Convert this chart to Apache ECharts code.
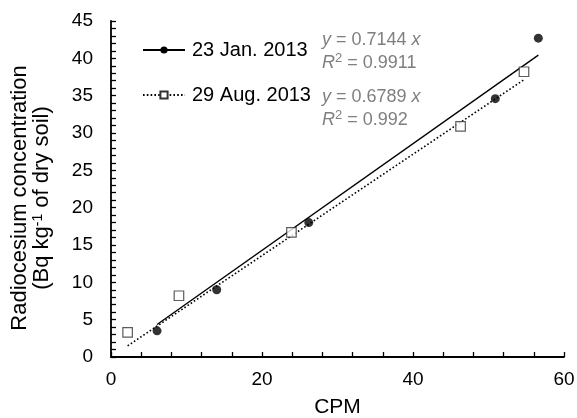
<!DOCTYPE html>
<html>
<head>
<meta charset="utf-8">
<script src="https://cdn.jsdelivr.net/npm/echarts@6/dist/echarts.min.js"></script>
<style>
    html, body { margin: 0; padding: 0; background: #fff; }
    #main { width: 577px; height: 418px; }
</style>
</head>
<body>
<div id="main"></div>
<script>
// 23 Jan. 2013 (filled circles)
let janX = [6.1, 14.0, 26.2, 50.9, 56.6];
let janY = [3.5, 9.0, 18.0, 34.6, 42.7];
// 29 Aug. 2013 (open squares)
let augX = [2.2, 9.0, 23.9, 46.3, 54.7];
let augY = [3.3, 8.2, 16.7, 30.9, 38.2];

let janSlope = 0.7144;
let augSlope = 0.6789;
let janR2 = '0.9911';
let augR2 = '0.992';

let seriesNames = ['23 Jan. 2013', '29 Aug. 2013'];

let font = 'Liberation Sans, Arial, sans-serif';

function pairs(xs, ys) {
    return xs.map(function (x, i) { return [x, ys[i]]; });
}

// trendline through origin, drawn over the data range
function trend(xs, slope) {
    let lo = Math.min.apply(null, xs);
    let hi = Math.max.apply(null, xs);
    return [
        { value: [lo, slope * lo], symbol: 'none' },
        { value: [hi, slope * hi], symbol: 'none' },
    ];
}

function eqText(slope, r2) {
    return '{i|y} = ' + slope.toFixed(4) + ' {i|x}\n{i|R}{s|2} = ' + r2;
}

let eqStyle = {
    fill: '#7f7f7f', fontSize: 18, fontFamily: font, lineHeight: 22.5,
    rich: {
        i: { fontStyle: 'italic', fill: '#7f7f7f', fontSize: 18, fontFamily: font, lineHeight: 22.5 },
        s: { fill: '#7f7f7f', fontSize: 13, verticalAlign: 'top', fontFamily: font, lineHeight: 22.5 },
    },
};

let chart = echarts.init(document.getElementById('main'));

let axisCommon = {
    axisLine: { show: true, lineStyle: { color: '#000', width: 1.8 } },
    axisTick: { show: true, inside: true, length: 5, lineStyle: { color: '#000', width: 1.3 } },
    minorTick: { show: true, splitNumber: 5, length: 5, lineStyle: { color: '#000', width: 1.3 } },
    splitLine: { show: false },
    axisLabel: { color: '#000', fontSize: 19, fontFamily: font },
};

let option = {
    animation: false,
    backgroundColor: '#fff',
    textStyle: { fontFamily: font },
    grid: { left: 111, right: 13, top: 21, bottom: 61, containLabel: false, outerBoundsMode: 'none' },
    legend: {
        orient: 'vertical',
        left: 137,
        top: 35,
        itemWidth: 42,
        itemHeight: 9,
        itemGap: 25,
        selectedMode: false,
        textStyle: { color: '#000', fontSize: 20, fontFamily: font, padding: [0, 0, 0, 2] },
        data: seriesNames,
    },
    xAxis: Object.assign({}, axisCommon, {
        type: 'value',
        min: 0,
        max: 60,
        interval: 20,
        name: 'CPM',
        nameLocation: 'middle',
        nameGap: 40,
        nameTextStyle: { color: '#000', fontSize: 21, fontFamily: font },
        axisLabel: Object.assign({}, axisCommon.axisLabel, { margin: 13 }),
    }),
    yAxis: Object.assign({}, axisCommon, {
        type: 'value',
        min: 0,
        max: 45,
        interval: 5,
        name: 'Radiocesium concentration\n(Bq kg{sup|-1} of dry soil)',
        nameLocation: 'middle',
        nameRotate: 90,
        nameGap: 58,
        nameTextStyle: {
            color: '#000',
            fontSize: 22,
            fontFamily: font,
            lineHeight: 22,
            padding: [0, 18, 0, 0],
            rich: {
                sup: { fontSize: 14, verticalAlign: 'top', lineHeight: 22, color: '#000', fontFamily: font },
            },
        },
        axisLabel: Object.assign({}, axisCommon.axisLabel, { margin: 18 }),
    }),
    graphic: [
        { type: 'text', left: 322, top: 29, style: Object.assign({ text: eqText(janSlope, janR2) }, eqStyle) },
        { type: 'text', left: 322, top: 86, style: Object.assign({ text: eqText(augSlope, augR2) }, eqStyle) },
    ],
    series: [
        {
            name: seriesNames[0],
            type: 'line',
            data: trend(janX, janSlope),
            symbol: 'circle',
            symbolSize: 7,
            itemStyle: { color: '#000' },
            lineStyle: { color: '#000', width: 1.4 },
            silent: true,
            z: 2,
        },
        {
            name: seriesNames[1],
            type: 'line',
            data: trend(augX, augSlope),
            symbol: 'rect',
            symbolSize: 8,
            itemStyle: { color: '#fff', borderColor: '#333', borderWidth: 1 },
            lineStyle: { color: '#000', width: 1.6, type: [1.6, 2.2] },
            silent: true,
            z: 2,
        },
        {
            name: seriesNames[0],
            type: 'scatter',
            data: pairs(janX, janY),
            symbol: 'circle',
            symbolSize: 9,
            itemStyle: { color: '#000' },
            z: 3,
        },
        {
            name: seriesNames[1],
            type: 'scatter',
            data: pairs(augX, augY),
            symbol: 'rect',
            symbolSize: 9.5,
            itemStyle: { color: '#fff', borderColor: '#333', borderWidth: 1.2 },
            z: 3,
        },
    ],
};

chart.setOption(option);
</script>
</body>
</html>
